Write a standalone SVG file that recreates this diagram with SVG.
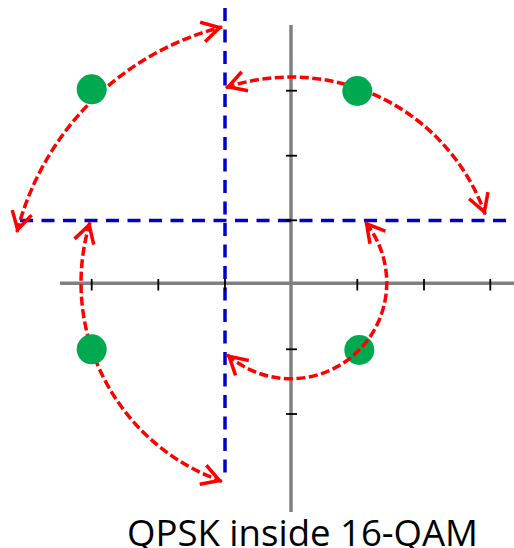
<svg xmlns="http://www.w3.org/2000/svg" width="514" height="548" viewBox="0 0 514 548">
<style>
.axis{stroke:#808080;stroke-width:3.5;fill:none}
.tick{stroke:#000;stroke-width:1.8;fill:none}
.guide{stroke:#0000CC;stroke-width:3.5;stroke-dasharray:13 8.5;fill:none}
.arc{stroke:#FF0000;stroke-width:3.5;stroke-dasharray:9 3.5;fill:none;marker-start:url(#ah);marker-end:url(#ah)}
.dot{fill:#00A94F}
.label{font-family:"Open Sans","Noto Sans","Liberation Sans",sans-serif;font-size:37px;fill:#000}
</style>
<defs>
<marker id="ah" markerUnits="userSpaceOnUse" viewBox="-24 -12 28 24" refX="0" refY="0" markerWidth="28" markerHeight="24" orient="auto-start-reverse" overflow="visible">
<path d="M-20,-10 L-2.5,0 L-20,10" fill="none" stroke="#FF0000" stroke-width="3.5" stroke-dasharray="none"/>
</marker>
</defs>
<g id="axes">
<line class="axis" x1="291" y1="25" x2="291" y2="512"/>
<line class="axis" x1="60" y1="283.3" x2="514" y2="283.3"/>
</g>
<g id="guides">
<line class="guide" x1="225" y1="8" x2="225" y2="480"/>
<line class="guide" x1="20" y1="220.5" x2="514" y2="220.5"/>
</g>
<g id="ticks">
<line class="tick" x1="286" y1="90.7" x2="297" y2="90.7"/>
<line class="tick" x1="286" y1="155.7" x2="297" y2="155.7"/>
<line class="tick" x1="286" y1="220.3" x2="297" y2="220.3"/>
<line class="tick" x1="286" y1="349.3" x2="297" y2="349.3"/>
<line class="tick" x1="286" y1="414" x2="297" y2="414"/>
<line class="tick" x1="91.7" y1="279" x2="91.7" y2="290.5"/>
<line class="tick" x1="158.3" y1="279" x2="158.3" y2="290.5"/>
<line class="tick" x1="225" y1="279" x2="225" y2="290.5"/>
<line class="tick" x1="357.3" y1="279" x2="357.3" y2="290.5"/>
<line class="tick" x1="424" y1="279" x2="424" y2="290.5"/>
<line class="tick" x1="490.3" y1="279" x2="490.3" y2="290.5"/>
</g>
<g id="connectors">
<path class="arc" d="M17,232 A284,284 0 0 1 222,27"/>
<path class="arc" d="M225.9,87.6 A206,206 0 0 1 485.2,214.3"/>
<path class="arc" d="M89.9,222.6 A210,210 0 0 0 221.9,481.3"/>
</g>
<g id="dot-tl"><circle class="dot" cx="91.7" cy="89.3" r="15"/></g>
<g id="dot-tr"><circle class="dot" cx="357.3" cy="91" r="15"/></g>
<g id="dot-bl"><circle class="dot" cx="91.7" cy="349.3" r="15"/></g>
<g id="dot-br"><circle class="dot" cx="359.3" cy="350" r="15"/></g>
<g id="connectors-top">
<path class="arc" d="M227.2,354.7 A96,96 0 0 0 365,221.9"/>
</g>
<text class="label" x="127" y="546" textLength="351" lengthAdjust="spacingAndGlyphs">QPSK inside 16-QAM</text>
</svg>
